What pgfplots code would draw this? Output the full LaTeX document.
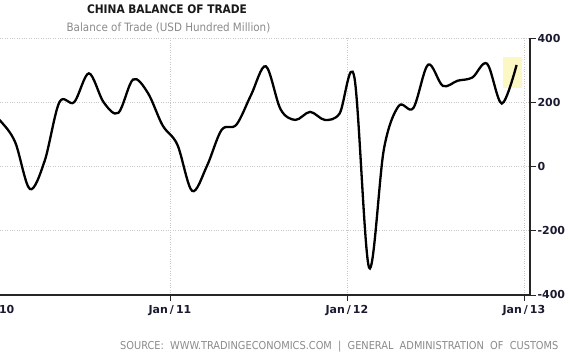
\documentclass[border=0pt]{standalone}
\usepackage{pgfplots}
\pgfplotsset{compat=1.18}
\usepackage{fontspec}
\setmainfont{DejaVu Sans Condensed}
\newfontfamily\tickfont{DejaVu Sans}
\definecolor{ticktxt}{HTML}{1A1A30}
\definecolor{srcgray}{HTML}{8A8A8A}
\definecolor{gridgray}{HTML}{C8C8C8}
\definecolor{hl}{HTML}{FCF8C4}
\begin{document}
\begin{tikzpicture}[x=1pt,y=1pt]
\begin{axis}[
  scale only axis,
  width=530pt, height=257pt,
  at={(0pt,0pt)}, anchor=south west,
  xmin=0.4746, xmax=36.41,
  ymin=-400, ymax=400,
  axis x line=bottom, axis y line=right,
  axis line style={-, line width=1.1pt, black!85},
  xtick={12,24,36},
  xticklabels={Jan\hspace{2pt}/\hspace{2pt}11,Jan\hspace{2pt}/\hspace{2pt}12,Jan\hspace{2pt}/\hspace{2pt}13},
  ytick={-400,-200,0,200,400},
  yticklabel pos=right,
  tick align=outside,
  major tick length=6pt,
  tick style={line width=0.8pt, black!85},
  grid=major,
  major grid style={dotted, line width=0.7pt, gridgray},
  yticklabel style={anchor=west, xshift=-2pt, font=\tickfont\bfseries\fontsize{11}{12}\selectfont, text=ticktxt},
  xticklabel style={anchor=north, yshift=-1pt, font=\tickfont\bfseries\fontsize{11}{12}\selectfont, text=ticktxt},
  /pgf/number format/assume math mode=true,
  clip=true,
]
\fill[hl] (axis cs:34.55,245) rectangle (axis cs:35.84,342);
\addplot[black, line width=2.3pt, smooth, tension=0.55] coordinates {
(-0.5,184) (0.5,142) (1.5,76) (2.5,-70) (3.5,17) (4.5,200) (5.5,200)
(6.5,290) (7.5,200) (8.5,167) (9.5,271) (10.5,229) (11.5,128)
(12.5,68) (13.5,-76) (14.5,1) (15.5,114) (16.5,130) (17.5,223)
(18.5,312) (19.5,178) (20.5,145) (21.5,170) (22.5,145) (23.5,165)
(24.5,278) (25.5,-315) (26.5,53) (27.5,188) (28.5,182) (29.5,317)
(30.5,251) (31.5,267) (32.5,277) (33.5,320) (34.5,196) (35.5,316)
};
\coordinate (j10) at (axis cs:0,-400);
\end{axis}
\node[anchor=north, yshift=-7pt, font=\tickfont\bfseries\fontsize{11}{12}\selectfont, text=ticktxt] at (j10) {Jan\hspace{2pt}/\hspace{2pt}10};
\node[font=\bfseries\fontsize{11.8}{15}\selectfont, text=black!90] at (167pt,286pt) {CHINA BALANCE OF TRADE};
\node[font=\fontsize{11.5}{13}\selectfont, text=srcgray] at (168.5pt,267pt) {Balance of Trade (USD Hundred Million)};
\node[anchor=east, font=\fontsize{10.9}{12}\selectfont, text=srcgray] at (562pt,-52pt) {SOURCE:\ \ WWW.TRADINGECONOMICS.COM\ \ |\ \ GENERAL\ \ ADMINISTRATION\ \ OF\ \ CUSTOMS};
\pgfresetboundingbox
\useasboundingbox (0pt,-63pt) rectangle (571pt,295pt);
\end{tikzpicture}
\end{document}
